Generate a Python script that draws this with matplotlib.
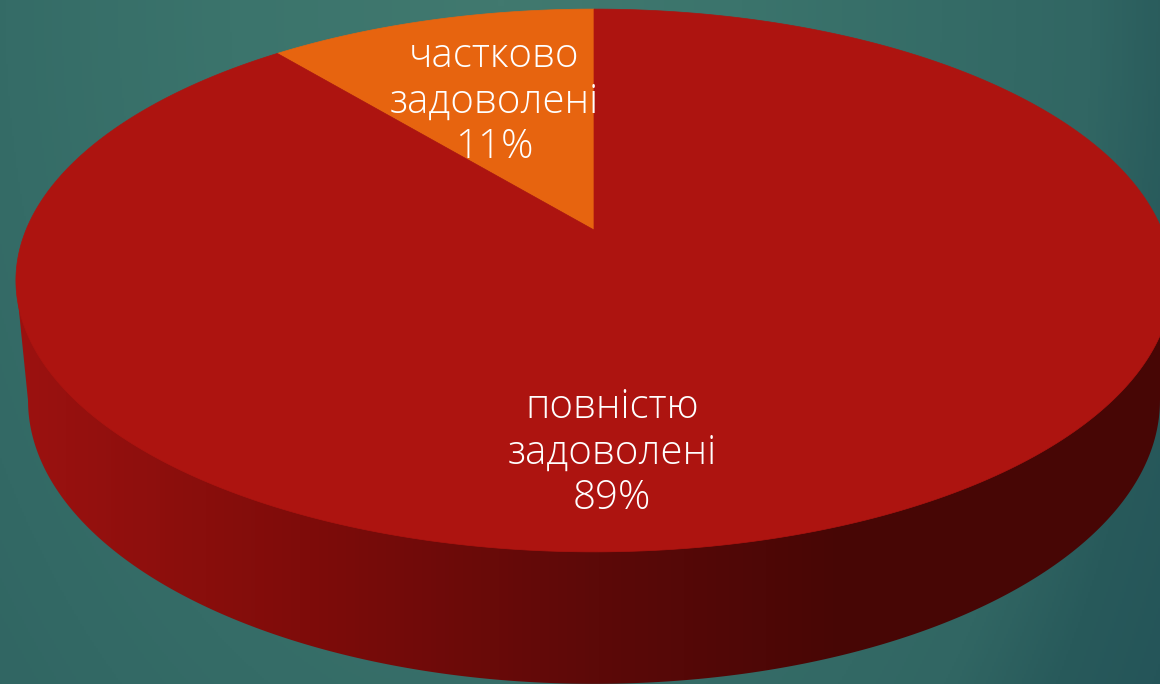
import numpy as np
import matplotlib
matplotlib.use("Agg")
import matplotlib.pyplot as plt
from matplotlib.patches import Polygon
from matplotlib.colors import LinearSegmentedColormap

# Data
categories = ["частково\nзадоволені", "повністю\nзадоволені"]
values = [11, 89]
slice_colors = ["#E7640F", "#AD1410"]

W, H = 1160, 684
fig = plt.figure(figsize=(W / 100, H / 100), dpi=100)
ax = fig.add_axes([0, 0, 1, 1])

# Background: soft radial teal gradient, lighter at top centre
yy, xx = np.mgrid[0:H:2, 0:W:2]
rx = np.where(xx < 500, 900.0, 800.0)
d = np.sqrt(((xx - 500) / rx) ** 2 + (yy / 1400.0) ** 2)
bg = LinearSegmentedColormap.from_list(
    "bg",
    [(0.0, "#41796F"), (0.3, "#3B746C"), (0.55, "#356C67"), (0.74, "#316663"),
     (0.85, "#285A5B"), (0.95, "#255559"), (1.0, "#235258")],
)
ax.imshow(np.clip(d, 0, 1), cmap=bg, vmin=0, vmax=1, extent=(0, W, H, 0), aspect="auto", zorder=0)

# Perspective pie projection
CX, APEX_Y = 594.0, 230.0
K, A, B = 0.186, 262.0, 568.0


def project(theta):
    """Clockwise angle from 12 o'clock on the pie -> pixels on the top face."""
    u, v = np.sin(theta), np.cos(theta)
    s = 1 + K * v
    return CX + B * u / s, APEX_Y - A * v / s


def lower(x, y):
    return CX + 0.979 * (x - CX), 400 + 1.044 * (y - 280)


# Side wall: silhouette from the top rim's extremes down around the lower rim
t = np.linspace(0, 2 * np.pi, 1441)
tx, ty = project(t)
bx, by = lower(tx, ty)
il, ir = np.argmin(tx), np.argmax(tx)
jl, jr = np.argmin(bx), np.argmax(bx)
side = np.vstack([
    [tx[ir], ty[ir]],
    np.column_stack([bx[jr:jl + 1], by[jr:jl + 1]]),
    [tx[il], ty[il]],
])
side_cmap = LinearSegmentedColormap.from_list(
    "side",
    [(0.0, "#9C1210"), (0.246, "#7F0C0A"), (0.505, "#5C0908"), (0.72, "#470605"), (1.0, "#470605")],
)
grad = np.linspace(0, 1, 256).reshape(1, -1)
im = ax.imshow(grad, cmap=side_cmap, extent=(16, 1172, H + 20, 0), aspect="auto", zorder=1)
clip = Polygon(side, closed=True, transform=ax.transData, fc="none", ec="none")
ax.add_patch(clip)
im.set_clip_path(clip)
ax.set_xlim(0, W)
ax.set_ylim(H, 0)
ax.axis("off")

# Top face, slices derived from values
fracs = np.array(values, dtype=float) / sum(values)
start = -2 * np.pi * fracs[0]
for frac, col in zip(fracs, slice_colors):
    a = np.linspace(start, start + 2 * np.pi * frac, 400)
    px, py = project(a)
    pts = np.column_stack([np.r_[CX, px], np.r_[APEX_Y, py]])
    ax.add_patch(Polygon(pts, closed=True, fc=col, ec=col, lw=0.5, zorder=2))
    start += 2 * np.pi * frac

# Labels
FONT = ["Open Sans", "DejaVu Sans"]
label_pos = [(494, 102), (612, 453)]
for cat, val, (lx, ly) in zip(categories, values, label_pos):
    ax.text(lx, ly, f"{cat}\n{val}%", color="white", ha="center", va="center",
            fontsize=29, family=FONT, fontweight="light", linespacing=1.14, zorder=3,
            multialignment="center")

fig.savefig("out.png", dpi=100)
